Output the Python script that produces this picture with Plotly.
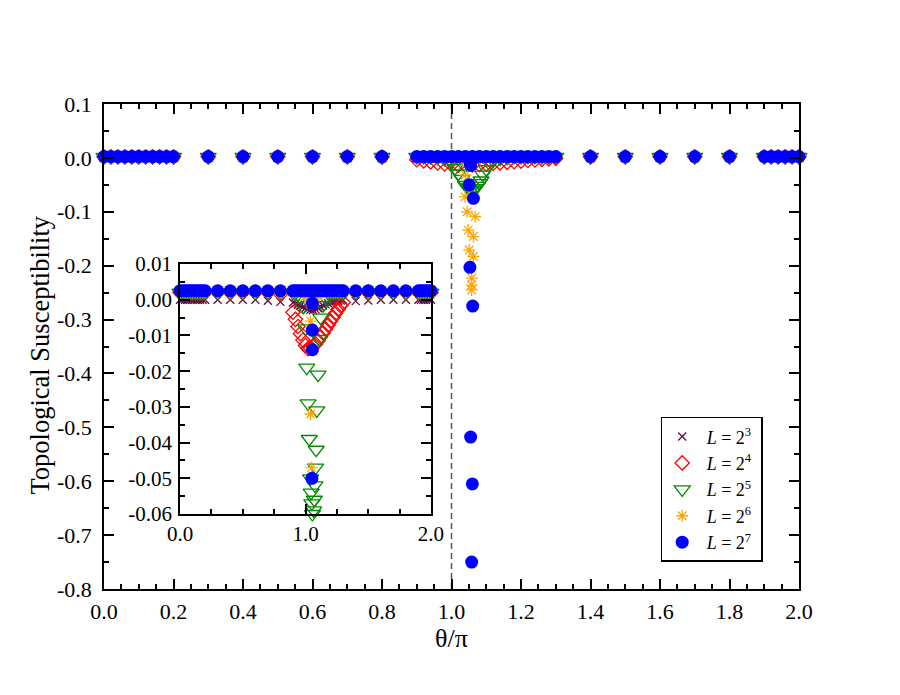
import plotly.graph_objects as go

# ---------------- data ----------------
# theta/pi positions away from the transition (shared by all L)
X_FLAT = [0.00, 0.02, 0.04, 0.06, 0.08, 0.10, 0.12, 0.14, 0.16, 0.18, 0.20,
          0.3, 0.4, 0.5, 0.6, 0.7, 0.8,
          1.4, 1.5, 1.6, 1.7, 1.8,
          1.90, 1.92, 1.94, 1.96, 1.98, 2.00]

Y_FLAT_L8 = [0.0, 0.0, 0.0, 0.0, 0.0, 0.0, 0.0, 0.0, 0.0, 0.0, 0.0,
             0.0, 0.0, 0.0, 0.0, -0.0003, -0.0006,
             -0.0004, -0.0002, 0.0, 0.0, 0.0,
             0.0, 0.0, 0.0, 0.0, 0.0, 0.0]
Y_FLAT_L16 = [0.002, 0.002, 0.002, 0.002, 0.002, 0.002, 0.002, 0.002, 0.002, 0.002, 0.002,
              0.002, 0.002, 0.002, 0.002, 0.002, 0.0015,
              0.002, 0.002, 0.002, 0.002, 0.002,
              0.002, 0.002, 0.002, 0.002, 0.002, 0.002]
Y_FLAT_L32 = [0.002, 0.002, 0.002, 0.002, 0.002, 0.002, 0.002, 0.002, 0.002, 0.002, 0.002,
              0.002, 0.002, 0.002, 0.002, 0.002, 0.002,
              0.002, 0.002, 0.002, 0.002, 0.002,
              0.002, 0.002, 0.002, 0.002, 0.002, 0.002]
Y_FLAT_L64 = [0.002, 0.002, 0.002, 0.002, 0.002, 0.002, 0.002, 0.002, 0.002, 0.002, 0.002,
              0.002, 0.002, 0.002, 0.002, 0.002, 0.002,
              0.002, 0.002, 0.002, 0.002, 0.002,
              0.002, 0.002, 0.002, 0.002, 0.002, 0.002]
Y_FLAT_L128 = [0.0025, 0.0025, 0.0025, 0.0025, 0.0025, 0.0025, 0.0025, 0.0025, 0.0025, 0.0025, 0.0025,
               0.0025, 0.0025, 0.0025, 0.0025, 0.0025, 0.0025,
               0.0025, 0.0025, 0.0025, 0.0025, 0.0025,
               0.0025, 0.0025, 0.0025, 0.0025, 0.0025, 0.0025]

# dense scan around the transition
X_MID_L8 = [0.90, 0.92, 0.94, 0.96, 0.98, 1.00, 1.02, 1.04, 1.06, 1.08, 1.10,
            1.12, 1.14, 1.16, 1.18, 1.20, 1.22, 1.24, 1.26, 1.28, 1.30]
Y_MID_L8 = [-0.0008, -0.0011, -0.0014, -0.0017, -0.0020, -0.0023, -0.0026, -0.0028, -0.0029,
            -0.0027, -0.0024, -0.0020, -0.0016, -0.0013, -0.0010, -0.0008, -0.0006,
            -0.0004, -0.0003, -0.0002, -0.0001]

X_MID_L16 = [0.90, 0.92, 0.94, 0.96, 0.98, 1.00, 1.02, 1.04, 1.06,
             1.08, 1.10, 1.12, 1.14, 1.16, 1.18, 1.20, 1.22, 1.24, 1.26, 1.28, 1.30]
Y_MID_L16 = [-0.0035, -0.0055, -0.0075, -0.0095, -0.0113, -0.0128,
             -0.0137, -0.0136, -0.0131, -0.0124, -0.0115, -0.0104, -0.0093, -0.0082, -0.0071,
             -0.0060, -0.0049, -0.0038, -0.0027, -0.0017, -0.0008]

X_MID_L32 = [0.90, 0.92, 0.94, 0.96, 0.98, 1.00, 1.01, 1.02, 1.03, 1.04, 1.045, 1.05, 1.055,
             1.06, 1.065, 1.07, 1.075, 1.08, 1.085, 1.09, 1.10, 1.11, 1.12, 1.14, 1.16,
             1.18, 1.20, 1.22, 1.24, 1.26, 1.28, 1.30]
Y_MID_L32 = [0.002, 0.002, 0.0015, 0.0005, -0.002, -0.008, -0.019, -0.029, -0.039, -0.050,
             -0.054, -0.057, -0.060, -0.062, -0.059, -0.056, -0.052, -0.047, -0.042, -0.031,
             -0.021, -0.011, -0.005, -0.0015, 0.0005, 0.002, 0.002, 0.002, 0.002, 0.002,
             0.002, 0.002]

X_MID_L64 = [0.90, 0.92, 0.94, 0.96, 0.98, 1.00, 1.02, 1.04, 1.06, 1.08, 1.10, 1.12, 1.14,
             1.16, 1.18, 1.20, 1.22, 1.24, 1.26, 1.28, 1.30,
             1.040, 1.040, 1.049, 1.039, 1.045, 1.068, 1.048, 1.063, 1.051, 1.063,
             1.058, 1.058, 1.058]
Y_MID_L64 = [0.002, 0.002, 0.002, 0.002, 0.002, 0.001, 0.0, -0.001, -0.001, 0.0, 0.001, 0.002,
             0.002, 0.002, 0.002, 0.002, 0.002, 0.002, 0.002, 0.002, 0.002,
             -0.006, -0.032, -0.047, -0.072, -0.100, -0.109, -0.134, -0.146, -0.171, -0.183,
             -0.223, -0.236, -0.245]

X_MID_L128 = [0.90, 0.92, 0.94, 0.96, 0.98, 1.00, 1.02, 1.04, 1.06, 1.08, 1.10, 1.12, 1.14,
              1.16, 1.18, 1.20, 1.22, 1.24, 1.26, 1.28, 1.30,
              1.055, 1.054, 1.055, 1.051, 1.063, 1.053, 1.061, 1.055, 1.060, 1.058]
Y_MID_L128 = [0.0025, 0.0025, 0.0025, 0.0025, 0.0025, 0.0025, 0.0025, 0.0025, 0.0025, 0.0025,
              0.0025, 0.0025, 0.0025, 0.0025, 0.0025, 0.0025, 0.0025, 0.0025, 0.0025, 0.0025,
              0.0025,
              -0.001, -0.0085, -0.014, -0.050, -0.075, -0.203, -0.275, -0.518, -0.605, -0.750]

SERIES_NAMES = ["&nbsp;<i>L</i> = 2<sup>3</sup>&nbsp;", "&nbsp;<i>L</i> = 2<sup>4</sup>&nbsp;",
                "&nbsp;<i>L</i> = 2<sup>5</sup>&nbsp;", "&nbsp;<i>L</i> = 2<sup>6</sup>&nbsp;",
                "&nbsp;<i>L</i> = 2<sup>7</sup>&nbsp;"]

Y_TITLE = "Topological Susceptibility"
X_TITLE = "θ/π"

THETA_C = 1.0  # transition point (dashed guide)

X_TICKS_MAIN = [0.0, 0.2, 0.4, 0.6, 0.8, 1.0, 1.2, 1.4, 1.6, 1.8, 2.0]
Y_TICKS_MAIN = [0.1, 0.0, -0.1, -0.2, -0.3, -0.4, -0.5, -0.6, -0.7, -0.8]
X_TICKS_INSET = [0.0, 1.0, 2.0]
Y_TICKS_INSET = [0.01, 0.0, -0.01, -0.02, -0.03, -0.04, -0.05, -0.06]

MAIN_X_RANGE = [0.0, 2.0]
MAIN_Y_RANGE = [-0.8, 0.1]
INSET_X_RANGE = [0.0, 2.0]
INSET_Y_RANGE = [-0.06, 0.01]

# ---------------- styles ----------------
STYLES = [
    dict(symbol="x-thin-open", size=8, color="rgb(103,7,72)", lw=1.3),
    dict(symbol="diamond-open", size=11, color="rgb(255,0,0)", lw=1.3),
    dict(symbol="triangle-down-open", size=14, color="rgb(0,139,0)", lw=1.3),
    dict(symbol="asterisk-open", size=10, color="rgb(255,165,0)", lw=1.3),
    dict(symbol="circle", size=13, color="rgb(0,0,255)", lw=0),
]

series_x = [X_FLAT + X_MID_L8, X_FLAT + X_MID_L16, X_FLAT + X_MID_L32,
            X_FLAT + X_MID_L64, X_FLAT + X_MID_L128]
series_y = [Y_FLAT_L8 + Y_MID_L8, Y_FLAT_L16 + Y_MID_L16, Y_FLAT_L32 + Y_MID_L32,
            Y_FLAT_L64 + Y_MID_L64, Y_FLAT_L128 + Y_MID_L128]

FONT = "'Liberation Serif', 'Times New Roman', Times, serif"

fig = go.Figure()


def marker_of(st):
    m = dict(symbol=st["symbol"], size=st["size"], color=st["color"])
    if st["lw"] > 0:
        m["line"] = dict(color=st["color"], width=st["lw"])
    else:
        m["line"] = dict(width=0)
    return m


# main panel
for name, xs, ys, st in zip(SERIES_NAMES, series_x, series_y, STYLES):
    fig.add_trace(go.Scatter(x=xs, y=ys, mode="markers", name=name,
                             marker=marker_of(st), cliponaxis=False,
                             xaxis="x", yaxis="y"))

# inset panel (points outside the inset's y window are not drawn)
for name, xs, ys, st in zip(SERIES_NAMES, series_x, series_y, STYLES):
    keep = [(a, b) for a, b in zip(xs, ys) if INSET_Y_RANGE[0] - 0.0025 <= b <= INSET_Y_RANGE[1]]
    fig.add_trace(go.Scatter(x=[k[0] for k in keep], y=[k[1] for k in keep], mode="markers",
                             name=name, showlegend=False, marker=marker_of(st),
                             cliponaxis=False, xaxis="x2", yaxis="y2"))

axis_common = dict(showline=True, linecolor="black", linewidth=1.5, mirror="ticks",
                   ticks="inside", tickcolor="black", tickwidth=1.5, showgrid=False,
                   zeroline=False, tickmode="array")

fig.update_layout(
    width=900, height=695,
    paper_bgcolor="white", plot_bgcolor="white",
    margin=dict(l=96, r=109, t=96, b=114),
    font=dict(family=FONT, color="black"),
    showlegend=True,
    xaxis=dict(**axis_common, range=MAIN_X_RANGE, domain=[0, 1], ticklen=10,
               tickvals=X_TICKS_MAIN, ticktext=[f"{v:.1f}" for v in X_TICKS_MAIN],
               tickfont=dict(size=22, family=FONT), ticklabelstandoff=2,
               minor=dict(ticks="inside", ticklen=5, tickwidth=1.5, tickcolor="black",
                          tick0=0, dtick=0.05),
               title=dict(text=X_TITLE, font=dict(size=26, family=FONT), standoff=2)),
    yaxis=dict(**axis_common, range=MAIN_Y_RANGE, domain=[0, 1], ticklen=10,
               tickvals=Y_TICKS_MAIN, ticktext=[f"{v:.1f}" for v in Y_TICKS_MAIN],
               tickfont=dict(size=22, family=FONT), ticklabelstandoff=6,
               minor=dict(ticks="inside", ticklen=5, tickwidth=1.5, tickcolor="black",
                          tick0=0, dtick=0.05)),
    xaxis2=dict(**axis_common, range=INSET_X_RANGE, domain=[0.1094, 0.4705], anchor="y2",
                ticklen=10, tickvals=X_TICKS_INSET,
                ticktext=[f"{v:.1f}" for v in X_TICKS_INSET],
                tickfont=dict(size=21, family=FONT),
                minor=dict(ticks="inside", ticklen=5, tickwidth=1.5, tickcolor="black",
                           tick0=0, dtick=0.25)),
    yaxis2=dict(**axis_common, range=INSET_Y_RANGE, domain=[0.1546, 0.6701], anchor="x2",
                ticklen=10, tickvals=Y_TICKS_INSET,
                ticktext=[f"{v:.2f}" for v in Y_TICKS_INSET],
                tickfont=dict(size=21, family=FONT), ticklabelstandoff=2,
                minor=dict(ticks="inside", ticklen=5, tickwidth=1.5, tickcolor="black",
                           tick0=0, dtick=0.005)),
    legend=dict(x=0.801, y=0.355, xanchor="left", yanchor="top",
                bgcolor="white", bordercolor="black", borderwidth=1.5,
                font=dict(size=18, family=FONT), tracegroupgap=0),
    annotations=[dict(text=Y_TITLE, xref="paper", yref="paper", x=-0.0921, y=0.4835,
                      xanchor="center", yanchor="middle", textangle=-90, showarrow=False,
                      font=dict(size=26.5, family=FONT, color="black"))],
)

for xr, yr in (("x", "y domain"), ("x2", "y2 domain")):
    fig.add_shape(type="line", xref=xr, yref=yr, x0=THETA_C, x1=THETA_C, y0=0, y1=1,
                  line=dict(color="#555555", width=1.5, dash="6px,4px"), layer="below")

fig.write_html("out.html")
